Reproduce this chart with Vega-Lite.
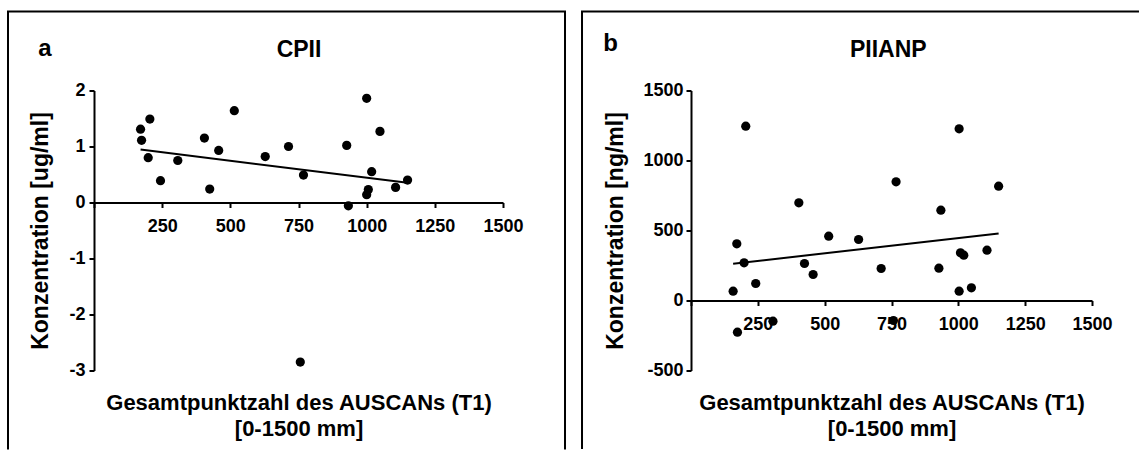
{
  "$schema": "https://vega.github.io/schema/vega-lite/v6.json",
  "background": "white",
  "padding": {"left": 6, "top": 9.5, "right": 0, "bottom": 0},
  "spacing": 188,
  "bounds": "flush",
  "datasets": {
    "cpii": [
      {"x": 170.7, "y": 1.31}, {"x": 174.4, "y": 1.11}, {"x": 204.9, "y": 1.49}, {"x": 198.8, "y": 0.80},
      {"x": 243.9, "y": 0.39}, {"x": 307.3, "y": 0.75}, {"x": 404.9, "y": 1.15}, {"x": 424.4, "y": 0.24},
      {"x": 457.3, "y": 0.93}, {"x": 514.6, "y": 1.64}, {"x": 628.0, "y": 0.82}, {"x": 713.4, "y": 1.00},
      {"x": 768.3, "y": 0.49}, {"x": 756.6, "y": -2.85}, {"x": 926.8, "y": 1.02}, {"x": 932.9, "y": -0.06},
      {"x": 1000.0, "y": 1.86}, {"x": 1048.8, "y": 1.27}, {"x": 1018.3, "y": 0.55}, {"x": 1006.1, "y": 0.23},
      {"x": 1000.0, "y": 0.14}, {"x": 1106.1, "y": 0.27}, {"x": 1150.0, "y": 0.40}
    ],
    "piianp": [
      {"x": 157.6, "y": 66.7}, {"x": 171.3, "y": 404.8}, {"x": 173.8, "y": -226}, {"x": 198.6, "y": 269},
      {"x": 204.8, "y": 1245.2}, {"x": 242.1, "y": 121.4}, {"x": 306.6, "y": -147.6}, {"x": 403.4, "y": 697.6},
      {"x": 424.5, "y": 264.3}, {"x": 456.8, "y": 185.7}, {"x": 515.1, "y": 459.5}, {"x": 626.9, "y": 435.7},
      {"x": 711.3, "y": 228.6}, {"x": 757.2, "y": -142.9}, {"x": 767.1, "y": 847.6}, {"x": 927.3, "y": 231},
      {"x": 934.7, "y": 645.2}, {"x": 1003.0, "y": 66.7}, {"x": 1008.0, "y": 340.5}, {"x": 1003.0, "y": 1226.2},
      {"x": 1020.4, "y": 323.8}, {"x": 1048.9, "y": 90.5}, {"x": 1107.2, "y": 359.5}, {"x": 1150.7, "y": 816.7}
    ],
    "one": [{"k": 1}]
  },
  "hconcat": [
    {
      "width": 409,
      "height": 280,
      "layer": [
        {
          "data": {"name": "cpii"},
          "mark": {"type": "circle", "size": 85, "color": "black", "opacity": 1},
          "encoding": {
            "x": {
              "field": "x", "type": "quantitative",
              "scale": {"domain": [0, 1500], "nice": false, "zero": false},
              "axis": {
                "values": [0, 125, 250, 375, 500, 625, 750, 875, 1000, 1125, 1250, 1375, 1500],
                "labelExpr": "datum.value > 0 && datum.value % 250 === 0 ? '' + datum.value : ''",
                "offset": -168,
                "tickSize": 5,
                "labelPadding": 10,
                "title": ["Gesamtpunktzahl des AUSCANs (T1)", "[0-1500 mm]"],
                "titleX": 204.5,
                "titleY": 189.7,
                "titleAlign": "center",
                "titleBaseline": "top",
                "titleLineHeight": 26.6
              }
            },
            "y": {
              "field": "y", "type": "quantitative",
              "scale": {"domain": [-3, 2], "nice": false, "zero": false},
              "axis": {
                "values": [-3, -2.5, -2, -1.5, -1, -0.5, 0, 0.5, 1, 1.5, 2],
                "labelExpr": "datum.value % 1 === 0 ? '' + datum.value : ''",
                "tickSize": 5,
                "labelPadding": 4,
                "title": "Konzentration [ug/ml]",
                "titleFontSize": 23,
                "titleX": -54,
                "titleY": 140,
                "titleAngle": 270,
                "titleAlign": "center",
                "titleBaseline": "middle"
              }
            }
          }
        },
        {
          "data": {"name": "cpii"},
          "transform": [{"regression": "y", "on": "x"}],
          "mark": {"type": "line", "color": "black", "strokeWidth": 2},
          "encoding": {
            "x": {"field": "x", "type": "quantitative", "scale": {"domain": [0, 1500], "nice": false, "zero": false}},
            "y": {"field": "y", "type": "quantitative", "scale": {"domain": [-3, 2], "nice": false, "zero": false}}
          }
        },
        {
          "data": {"name": "one"},
          "mark": {"type": "rule", "color": "black", "strokeWidth": 2, "strokeCap": "square"},
          "encoding": {
            "x": {"datum": -315.4, "type": "quantitative", "scale": {"domain": [0, 1500], "nice": false, "zero": false}},
            "x2": {"datum": 1727.4},
            "y": {"datum": 3.41, "type": "quantitative", "scale": {"domain": [-3, 2], "nice": false, "zero": false}}
          }
        },
        {
          "data": {"name": "one"},
          "mark": {"type": "rule", "color": "black", "strokeWidth": 2},
          "encoding": {
            "x": {"datum": -315.4, "type": "quantitative", "scale": {"domain": [0, 1500], "nice": false, "zero": false}},
            "y": {"datum": 3.41, "type": "quantitative", "scale": {"domain": [-3, 2], "nice": false, "zero": false}},
            "y2": {"datum": -4.41}
          }
        },
        {
          "data": {"name": "one"},
          "mark": {"type": "rule", "color": "black", "strokeWidth": 2},
          "encoding": {
            "x": {"datum": 1727.4, "type": "quantitative", "scale": {"domain": [0, 1500], "nice": false, "zero": false}},
            "y": {"datum": 3.41, "type": "quantitative", "scale": {"domain": [-3, 2], "nice": false, "zero": false}},
            "y2": {"datum": -4.41}
          }
        },
        {
          "data": {"name": "one"},
          "mark": {"type": "text", "font": "Liberation Sans", "fontWeight": "bold", "fontSize": 24, "align": "left", "baseline": "alphabetic", "color": "black"},
          "encoding": {
            "x": {"datum": -204.3, "type": "quantitative", "scale": {"domain": [0, 1500], "nice": false, "zero": false}},
            "y": {"datum": 2.616, "type": "quantitative", "scale": {"domain": [-3, 2], "nice": false, "zero": false}},
            "text": {"value": "a"}
          }
        },
        {
          "data": {"name": "one"},
          "mark": {"type": "text", "font": "Liberation Sans", "fontWeight": "bold", "fontSize": 23, "align": "center", "baseline": "alphabetic", "color": "black"},
          "encoding": {
            "x": {"datum": 751.8, "type": "quantitative", "scale": {"domain": [0, 1500], "nice": false, "zero": false}},
            "y": {"datum": 2.604, "type": "quantitative", "scale": {"domain": [-3, 2], "nice": false, "zero": false}},
            "text": {"value": "CPII"}
          }
        }
      ]
    },
    {
      "width": 401,
      "height": 280,
      "layer": [
        {
          "data": {"name": "piianp"},
          "mark": {"type": "circle", "size": 85, "color": "black", "opacity": 1},
          "encoding": {
            "x": {
              "field": "x", "type": "quantitative",
              "scale": {"domain": [0, 1500], "nice": false, "zero": false},
              "axis": {
                "values": [0, 125, 250, 375, 500, 625, 750, 875, 1000, 1125, 1250, 1375, 1500],
                "labelExpr": "datum.value > 0 && datum.value % 250 === 0 ? '' + datum.value : ''",
                "offset": -70,
                "tickSize": 5,
                "labelPadding": 10,
                "title": ["Gesamtpunktzahl des AUSCANs (T1)", "[0-1500 mm]"],
                "titleX": 200.5,
                "titleY": 91.7,
                "titleAlign": "center",
                "titleBaseline": "top",
                "titleLineHeight": 26.6
              }
            },
            "y": {
              "field": "y", "type": "quantitative",
              "scale": {"domain": [-500, 1500], "nice": false, "zero": false},
              "axis": {
                "values": [-500, -250, 0, 250, 500, 750, 1000, 1250, 1500],
                "labelExpr": "datum.value % 500 === 0 ? '' + datum.value : ''",
                "tickSize": 5,
                "labelPadding": 3,
                "title": "Konzentration [ng/ml]",
                "titleFontSize": 23,
                "titleX": -76,
                "titleY": 140,
                "titleAngle": 270,
                "titleAlign": "center",
                "titleBaseline": "middle"
              }
            }
          }
        },
        {
          "data": {"name": "piianp"},
          "transform": [{"regression": "y", "on": "x"}],
          "mark": {"type": "line", "color": "black", "strokeWidth": 2},
          "encoding": {
            "x": {"field": "x", "type": "quantitative", "scale": {"domain": [0, 1500], "nice": false, "zero": false}},
            "y": {"field": "y", "type": "quantitative", "scale": {"domain": [-500, 1500], "nice": false, "zero": false}}
          }
        },
        {
          "data": {"name": "one"},
          "mark": {"type": "rule", "color": "black", "strokeWidth": 2, "strokeCap": "square"},
          "encoding": {
            "x": {"datum": -407.7, "type": "quantitative", "scale": {"domain": [0, 1500], "nice": false, "zero": false}},
            "x2": {"datum": 1672},
            "y": {"datum": 2064.3, "type": "quantitative", "scale": {"domain": [-500, 1500], "nice": false, "zero": false}}
          }
        },
        {
          "data": {"name": "one"},
          "mark": {"type": "rule", "color": "black", "strokeWidth": 2},
          "encoding": {
            "x": {"datum": -407.7, "type": "quantitative", "scale": {"domain": [0, 1500], "nice": false, "zero": false}},
            "y": {"datum": 2064.3, "type": "quantitative", "scale": {"domain": [-500, 1500], "nice": false, "zero": false}},
            "y2": {"datum": -1061}
          }
        },
        {
          "data": {"name": "one"},
          "mark": {"type": "text", "font": "Liberation Sans", "fontWeight": "bold", "fontSize": 24, "align": "left", "baseline": "alphabetic", "color": "black"},
          "encoding": {
            "x": {"datum": -328, "type": "quantitative", "scale": {"domain": [0, 1500], "nice": false, "zero": false}},
            "y": {"datum": 1784.3, "type": "quantitative", "scale": {"domain": [-500, 1500], "nice": false, "zero": false}},
            "text": {"value": "b"}
          }
        },
        {
          "data": {"name": "one"},
          "mark": {"type": "text", "font": "Liberation Sans", "fontWeight": "bold", "fontSize": 23, "align": "center", "baseline": "alphabetic", "color": "black"},
          "encoding": {
            "x": {"datum": 738, "type": "quantitative", "scale": {"domain": [0, 1500], "nice": false, "zero": false}},
            "y": {"datum": 1739.3, "type": "quantitative", "scale": {"domain": [-500, 1500], "nice": false, "zero": false}},
            "text": {"value": "PIIANP"}
          }
        }
      ]
    }
  ],
  "config": {
    "view": {"stroke": null},
    "font": "Liberation Sans",
    "axis": {
      "grid": false,
      "domainColor": "black",
      "domainWidth": 2,
      "tickColor": "black",
      "tickWidth": 2,
      "labelColor": "black",
      "labelFont": "Liberation Sans",
      "labelFontWeight": "bold",
      "labelFontSize": 18,
      "titleFont": "Liberation Sans",
      "titleFontWeight": "bold",
      "titleFontSize": 22,
      "titleColor": "black",
      "labelFlush": false,
      "labelOverlap": false,
      "labelBound": false
    }
  }
}
